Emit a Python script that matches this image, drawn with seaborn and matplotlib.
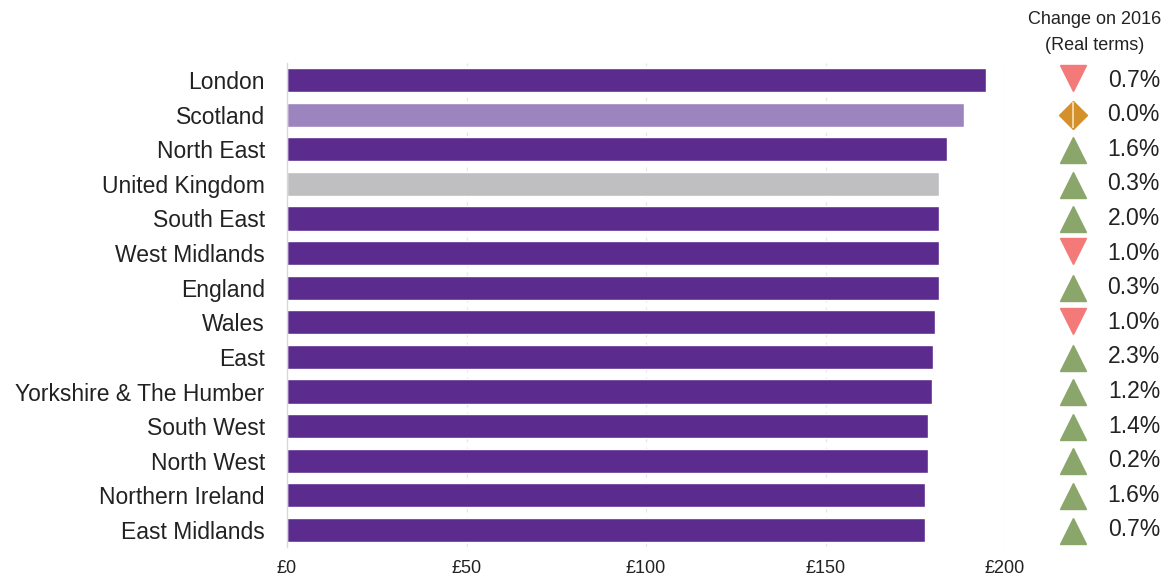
import matplotlib
matplotlib.use("Agg")
import matplotlib.pyplot as plt
import seaborn as sns
import pandas as pd

regions = ["London", "Scotland", "North East", "United Kingdom", "South East",
           "West Midlands", "England", "Wales", "East", "Yorkshire & The Humber",
           "South West", "North West", "Northern Ireland", "East Midlands"]
spend = [194.7, 188.7, 183.8, 181.7, 181.7, 181.7, 181.7, 180.5, 179.9, 179.6,
         178.6, 178.6, 177.7, 177.7]
change_2016 = [-0.7, 0.0, 1.6, 0.3, 2.0, -1.0, 0.3, -1.0, 2.3, 1.2, 1.4, 0.2, 1.6, 0.7]
x_ticks = [0, 50, 100, 150, 200]
x_tick_labels = ["£0", "£50", "£100", "£150", "£200"]

PURPLE = "#5b2c8e"
LILAC = "#9c85bf"
GREY = "#bfbfc1"
UP = "#8aa66b"
DOWN = "#f47a7a"
FLAT = "#d4902a"

bar_colors = {r: PURPLE for r in regions}
bar_colors["Scotland"] = LILAC
bar_colors["United Kingdom"] = GREY

sns.set_theme(style="white")
plt.rcParams["font.family"] = ["Liberation Sans", "DejaVu Sans"]

df = pd.DataFrame({"region": regions, "spend": spend, "change": change_2016})

W, H = 1176, 581
fig = plt.figure(figsize=(W / 100, H / 100), dpi=100)
ax_left, ax_right = 287 / W, 1005 / W
ax_top, ax_bottom = 1 - 62.7 / H, 1 - 547.3 / H
ax = fig.add_axes([ax_left, ax_bottom, ax_right - ax_left, ax_top - ax_bottom])

sns.barplot(data=df, x="spend", y="region", hue="region", palette=bar_colors,
            legend=False, width=0.7, saturation=1, ax=ax, zorder=2)

n = len(regions)
ax.set_ylim(n - 0.5, -0.5)
ax.set_xlim(0, 200)
ax.set_xticks(x_ticks)
ax.set_xticklabels(x_tick_labels, fontsize=13, color="#222222")
ax.tick_params(axis="x", length=0, pad=9)
ax.tick_params(axis="y", length=0, pad=16, labelsize=16.5, labelcolor="#222222")
ax.set_xlabel("")
ax.set_ylabel("")
for side in ["top", "right", "bottom"]:
    ax.spines[side].set_visible(False)
ax.spines["left"].set_color("#d9d9d9")
ax.spines["left"].set_linewidth(1.0)
for xv in x_ticks[1:]:
    ax.axvline(xv, color="#e6e6e6", linestyle=(0, (3, 4)), linewidth=0.9, zorder=0)

# Change column beside the bars
a2_left, a2_right = 1040 / W, 1170 / W
ax2 = fig.add_axes([a2_left, ax_bottom, a2_right - a2_left, ax_top - ax_bottom], sharey=ax)
ax2.set_xlim(0, 1)
ax2.axis("off")
mx = (1073 - 1040) / 130
tx = (1160 - 1040) / 130
for i, c in enumerate(change_2016):
    if c > 0:
        ax2.plot(mx, i + 0.02, marker="^", ms=19, color=UP, mec=UP, ls="none")
    elif c < 0:
        ax2.plot(mx, i - 0.05, marker="v", ms=19, color=DOWN, mec=DOWN, ls="none")
    else:
        ax2.plot(mx, i, marker="D", ms=14.5, color=FLAT, mec=FLAT, ls="none")
        ax2.plot(mx, i, marker="|", ms=19, color="#f6dcae", mew=1.3, ls="none")
    ax2.text(tx, i, f"{abs(c):.1f}%", ha="right", va="center", fontsize=16.5,
             color="#222222")

fig.text(1095 / W, 1 - 20 / H, "Change on 2016", ha="center", va="center",
         fontsize=13, color="#222222")
fig.text(1095 / W, 1 - 45 / H, "(Real terms)", ha="center", va="center",
         fontsize=13, color="#222222")

fig.savefig("out.png", dpi=100, facecolor="white")
